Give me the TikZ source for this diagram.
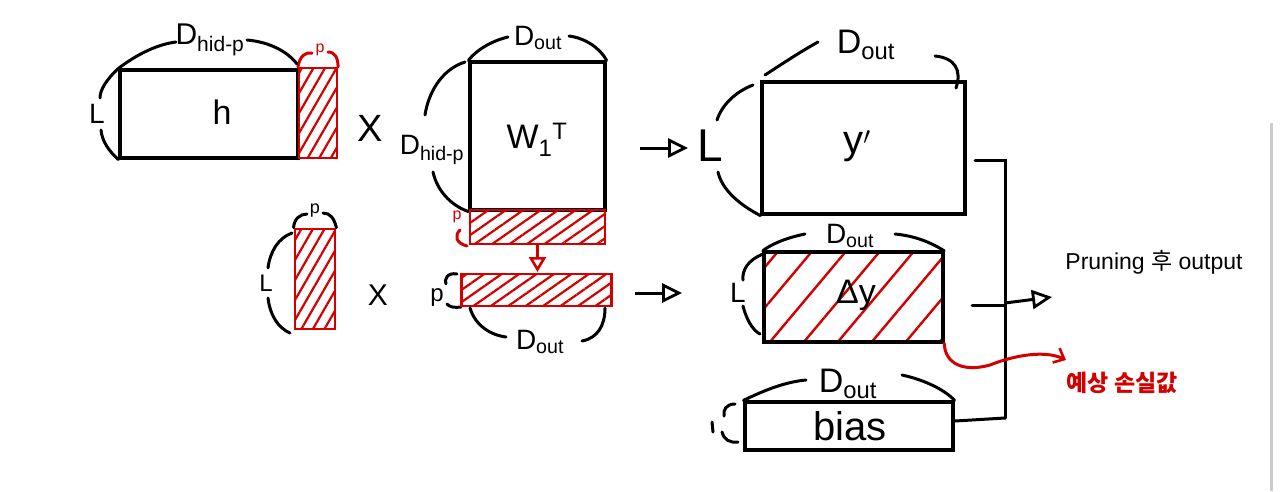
\documentclass[tikz,border=0pt]{standalone}
\usepackage{fontspec}
\setmainfont{Liberation Sans}
\newfontfamily\kr{Noto Sans CJK KR}
\usetikzlibrary{arrows.meta,patterns.meta}
\definecolor{pen}{RGB}{212,0,0}
\newcommand{\fs}[1]{\fontsize{#1}{#1}\selectfont}
\begin{document}
\begin{tikzpicture}[x=1pt,y=-1pt,
  box/.style={draw=black,line width=3.2pt,rectangle,inner sep=0pt},
  rbox/.style={draw=pen,line width=2.8pt,rectangle,inner sep=0pt,pattern color=pen},
  hatch/.style={pattern={Lines[angle=#1,distance=10pt,line width=2.2pt]}},
  arcs/.style={line width=3pt,line cap=round},
  rarcs/.style={arcs,draw=pen},
  lbl/.style={inner sep=1pt,font=\fs{34}},
  dim/.style={inner sep=1pt,font=\fs{28}},
  arr/.style={line width=3pt,-{Triangle[open,length=20pt,width=19pt,line width=2.8pt]}},
  ]
\fill[white] (0,0) rectangle (1280,491);
\path[use as bounding box] (0,0) rectangle (1280,491);
\draw[gray!40,line width=3pt] (1271,123) -- (1271,491);

% ---------- top row ----------
\node[box,minimum width=178pt,minimum height=88pt] (h) at (209,114) {};
\node[lbl] (hlab) at (222,112) {h};
\node[rbox,hatch=60,minimum width=38pt,minimum height=90pt] (hp) at (318,113) {};
\node[text=pen,font=\fs{16}] (hpp) at (320,50) {p};
\draw[rarcs] (hp.north west) .. controls (300,56) and (305,52) .. (312,53);
\draw[rarcs] (328,52) .. controls (335,52) and (338,58) .. (hp.north east);
\node[dim,font=\fs{30}] (hdim) at (210,40) {D\textsubscript{hid-p}};
\draw[arcs] (h.north west) .. controls (140,52) and (160,44) .. (176,42);
\draw[arcs] (247,40) .. controls (270,42) and (288,52) .. (297,64);
\node[dim] (hL) at (97,114) {L};
\draw[arcs] (h.north west) .. controls (106,80) and (100,90) .. (100,98);
\draw[arcs] (101,130) .. controls (102,142) and (110,152) .. (h.south west);
\node[lbl,font=\fs{38}] (x1) at (370,128) {X};

\node[box,minimum width=135pt,minimum height=148pt] (w) at (537.5,136) {};
\node[lbl] (wlab) at (537,140) {W\textsubscript{1}\textsuperscript{T}};
\node[dim] (wtop) at (538,38) {D\textsubscript{out}};
\draw[arcs] (w.north west) .. controls (478,48) and (495,40) .. (508,37);
\draw[arcs] (569,36) .. controls (585,38) and (600,48) .. (w.north east);
\node[dim] (wleft) at (432,150) {D\textsubscript{hid-p}};
\draw[arcs] (465,62) .. controls (440,70) and (428,95) .. (425,115);
\draw[arcs] (433,172) .. controls (437,190) and (450,205) .. (w.south west);
\node[rbox,hatch=35,minimum width=135pt,minimum height=34pt] (wr) at (537.5,227) {};
\node[text=pen,font=\fs{16}] (wrp) at (457,217) {p};
\draw[rarcs] (460,230) .. controls (454,236) and (456,243) .. (467,246);
\draw[arr,draw=pen,-{Triangle[open,length=15pt,width=17pt,line width=2.6pt]}] (wr.south) -- (537.5,272);

% ---------- second row ----------
\node[rbox,hatch=60,minimum width=40pt,minimum height=100pt] (lp) at (315,279) {};
\node[font=\fs{18}] (lpp) at (315,211) {p};
\draw[arcs] (lp.north west) .. controls (294,219) and (300,214) .. (307,214);
\draw[arcs] (323,213) .. controls (330,213) and (334,218) .. (lp.north east);
\node[font=\fs{24}] (lpL) at (266,283) {L};
\draw[arcs] (292,233) .. controls (278,238) and (270,252) .. (268,268);
\draw[arcs] (268,298) .. controls (270,315) and (278,328) .. (290,333);
\node[lbl,font=\fs{30}] (x2) at (378,295) {X};
\node[font=\fs{24}] (rp) at (437,298) {p};
\draw[arcs] (457,274) .. controls (447,272) and (444,280) .. (446,284);
\draw[arcs] (447,304) .. controls (449,307) and (455,308) .. (461,307);
\node[rbox,hatch=35,minimum width=150pt,minimum height=32pt] (pr) at (536.5,290) {};
\node[dim] (prd) at (540,342) {D\textsubscript{out}};
\draw[arcs] (470,308) .. controls (475,325) and (490,335) .. (506,337);
\draw[arcs] (582,341) .. controls (598,338) and (605,325) .. (605,308);

% ---------- arrows to outputs ----------
\coordinate (a1) at (640,148);
\node[lbl,font=\fs{46}] (yL) at (710,146) {L};
\draw[arr] (a1) -- (688,148);
\coordinate (a2) at (635,293);
\coordinate (a2e) at (682,293);
\draw[arr] (a2) -- (a2e);

% ---------- y' ----------
\node[box,minimum width=203pt,minimum height=132pt] (y) at (863.5,148) {};
\node[lbl,font=\fs{40}] (ylab) at (857,146) {y$'$};
\node[dim,font=\fs{34}] (ytop) at (866,45) {D\textsubscript{out}};
\draw[arcs] (765,75) .. controls (785,62) and (800,52) .. (818,42);
\draw[arcs] (935,56) .. controls (955,58) and (962,70) .. (956,88);
\draw[arcs] (753,85) .. controls (735,92) and (722,105) .. (717,120);
\draw[arcs] (718,172) .. controls (722,190) and (740,205) .. (y.south west);

% ---------- delta y ----------
\node[box,pattern={Lines[angle=50,distance=26pt,line width=2.4pt]},pattern color=pen,
      minimum width=179pt,minimum height=90pt] (dy) at (853.5,297) {};
\node[lbl] (dylab) at (856,295) {Δy};
\node[dim] (dytop) at (850,236) {D\textsubscript{out}};
\draw[arcs] (dy.north west) .. controls (770,245) and (785,238) .. (805,234);
\draw[arcs] (895,234) .. controls (915,236) and (930,242) .. (dy.north east);
\node[dim] (dyL) at (738,293) {L};
\draw[arcs] (763,254) .. controls (748,260) and (742,270) .. (743,280);
\draw[arcs] (743,306) .. controls (746,318) and (752,330) .. (760,334);

% ---------- bias ----------
\node[box,minimum width=208pt,minimum height=48pt] (b) at (849,426) {};
\node[lbl,font=\fs{40}] (blab) at (850,426) {bias};
\node[dim,font=\fs{34}] (btop) at (848,384) {D\textsubscript{out}};
\draw[arcs] (b.north west) .. controls (765,390) and (785,382) .. (806,380);
\draw[arcs] (902,375) .. controls (925,380) and (945,390) .. (b.north east);
\draw[arcs] (735,404) .. controls (726,404) and (723,410) .. (724,416);
\draw[arcs] (722,432) .. controls (724,440) and (730,443) .. (738,442);
\draw[arcs] (712,422) -- (713,432);

% ---------- sum bracket ----------
\coordinate (s1) at (975,160);
\coordinate (s1e) at (1005,160);
\coordinate (s2) at (972,305);
\coordinate (s2e) at (1005,305);
\coordinate (s3) at (955,421);
\coordinate (s3e) at (1005,418);
\coordinate (out) at (1052,297);
\draw[arcs] (s1) -- (s1e) -- (s3e);
\draw[arcs] (s2) -- (s2e);
\draw[arcs] (s3) -- (s3e);
\draw[arr] (1005,303) -- (out);
\node[font=\fs{23}] (res) at (1154,262) {Pruning {\kr 후} output};

% ---------- expected loss ----------
\node[text=pen,font=\kr\bfseries\fs{23}] (loss) at (1122,383) {예상 손실값};
\draw[rarcs,-{Straight Barb[length=9pt,width=16pt,line width=2.6pt]}]
  (dy.south east) .. controls (945,365) and (965,372) .. (990,365)
  .. controls (1015,355) and (1045,350) .. (1066,360);
\end{tikzpicture}
\end{document}
